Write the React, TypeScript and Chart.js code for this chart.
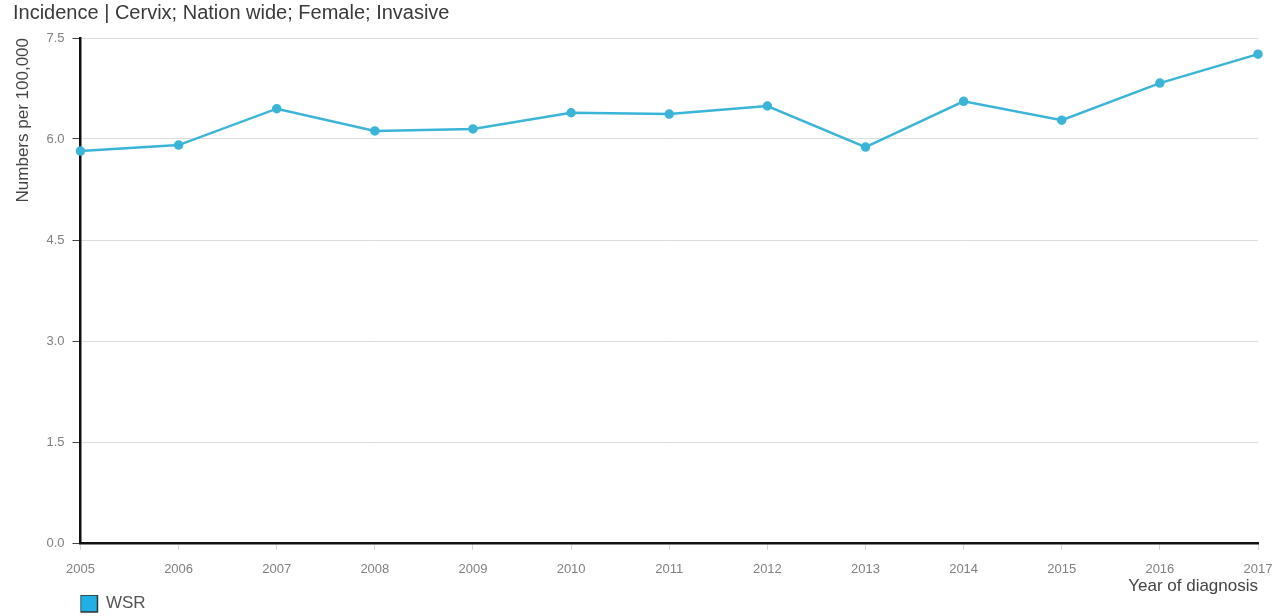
import React, { useEffect, useRef } from "react";
import { Chart, registerables } from "chart.js";

Chart.register(...registerables);

const years = ["2005", "2006", "2007", "2008", "2009", "2010", "2011", "2012", "2013", "2014", "2015", "2016", "2017"];
const wsr = [5.82, 5.91, 6.45, 6.12, 6.15, 6.39, 6.37, 6.49, 5.88, 6.56, 6.28, 6.83, 7.26];
const seriesLabel = "WSR";
const titleText = "Incidence | Cervix; Nation wide; Female; Invasive";
const yTitle = "Numbers per 100,000";
const xTitle = "Year of diagnosis";

const LINE = "#3ab5d8";
const FONT = "'Liberation Sans', Arial, sans-serif";

export default function App() {
  const ref = useRef<HTMLCanvasElement | null>(null);
  useEffect(() => {
    if (!ref.current) return;
    const chart = new Chart(ref.current, {
      type: "line",
      data: {
        labels: years,
        datasets: [
          {
            label: seriesLabel,
            data: wsr,
            borderColor: LINE,
            backgroundColor: LINE,
            borderWidth: 2.5,
            pointRadius: 3.5,
            pointBackgroundColor: LINE,
            pointBorderColor: LINE,
            tension: 0,
          },
        ],
      },
      options: {
        animation: false,
        responsive: true,
        maintainAspectRatio: false,
        layout: { padding: { left: 13, right: 0, top: 0, bottom: -6 } },
        plugins: {
          title: {
            display: true,
            text: titleText,
            align: "start",
            color: "#3a3a3a",
            font: { family: FONT, size: 20, weight: "normal" },
            padding: { top: 1, bottom: 13 },
          },
          legend: {
            display: true,
            position: "bottom",
            align: "start",
            fullSize: false,
            labels: {
              boxWidth: 17,
              boxHeight: 17,
              padding: 0,
              color: "#555",
              font: { family: FONT, size: 17 },
              generateLabels: (c: any) =>
                c.data.datasets.map((d: any, i: number) => ({
                  text: d.label,
                  fillStyle: "#1fb1e6",
                  strokeStyle: "#333",
                  lineWidth: 1.5,
                  datasetIndex: i,
                  fontColor: "#555",
                })),
            },
          },
          tooltip: { enabled: false },
        },
        scales: {
          x: {
            offset: false,
            afterFit: (scale: any) => {
              scale.paddingRight = 14;
            },
            grid: {
              drawOnChartArea: false,
              tickLength: 7,
              tickColor: "#d8d8d8",
            },
            border: { color: "#111", width: 2.5 },
            ticks: {
              color: "#808080",
              font: { family: FONT, size: 13 },
              padding: 12,
              maxRotation: 0,
            },
            title: {
              display: true,
              text: xTitle,
              align: "end",
              color: "#444",
              font: { family: FONT, size: 17 },
              padding: { top: -13, bottom: -2 },
            },
          },
          y: {
            min: 0,
            max: 7.5,
            grid: {
              color: "#dcdcdc",
              lineWidth: 1,
              tickLength: 8,
              tickColor: "#444",
            },
            border: { color: "#111", width: 2.5 },
            ticks: {
              stepSize: 1.5,
              color: "#808080",
              font: { family: FONT, size: 13 },
              padding: 8,
              callback: (v: any) => Number(v).toFixed(1),
            },
            title: {
              display: true,
              text: yTitle,
              align: "end",
              color: "#444",
              font: { family: FONT, size: 17 },
              padding: { top: 0, bottom: 5 },
            },
          },
        },
      },
    });
    return () => chart.destroy();
  }, []);
  return (
    <div style={{ position: "fixed", left: 0, top: 0, width: 1272, height: 616, background: "#fff" }}>
      <canvas ref={ref} />
    </div>
  );
}
